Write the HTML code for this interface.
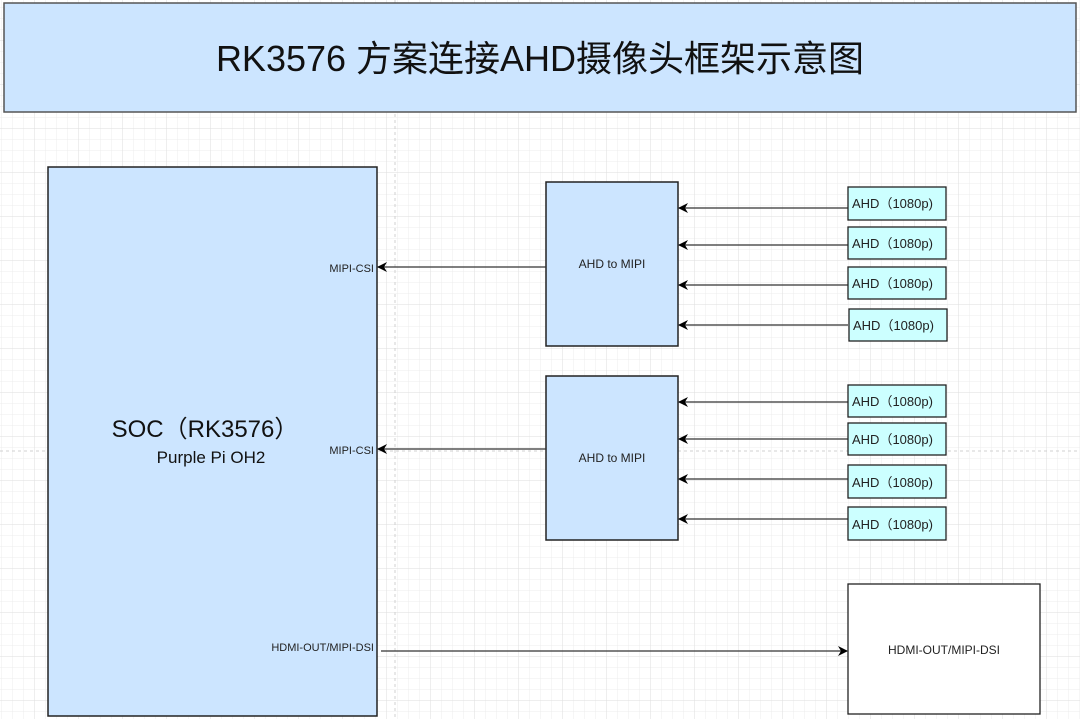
<!DOCTYPE html><html><head><meta charset="utf-8"><style>
body{margin:0;width:1080px;height:719px;overflow:hidden;background:#fff;font-family:"Liberation Sans","Noto Sans CJK SC",sans-serif;}
</style></head><body>
<svg width="1080" height="719" xmlns="http://www.w3.org/2000/svg" font-family="Liberation Sans, Noto Sans CJK SC, sans-serif">
<defs>
<pattern id="g" width="11" height="11" patternUnits="userSpaceOnUse" x="0" y="0"><path d="M11 0V11H0" fill="none" stroke="#ececec" stroke-width="1"/></pattern>
<pattern id="G" width="44" height="44" patternUnits="userSpaceOnUse" x="-9" y="-3"><rect width="44" height="44" fill="url(#g)"/><path d="M44 0V44H0" fill="none" stroke="#dedede" stroke-width="1"/></pattern>
<marker id="a" markerWidth="10" markerHeight="10" refX="9" refY="5" orient="auto" markerUnits="userSpaceOnUse"><path d="M0 0L10 5L0 10L3 5Z" fill="#000"/></marker>
</defs>
<rect width="1080" height="719" fill="url(#G)"/>
<line x1="395" y1="0" x2="395" y2="719" stroke="#d0d0d0" stroke-dasharray="3,3"/>
<line x1="0" y1="451" x2="1080" y2="451" stroke="#d0d0d0" stroke-dasharray="3,3"/>
<rect x="4" y="3" width="1072" height="109" fill="#cce5ff" stroke="#555" stroke-width="1.5"/>
<text x="540" y="71" font-size="36" text-anchor="middle" fill="#111">RK3576 方案连接AHD摄像头框架示意图</text>
<rect x="48" y="167" width="329" height="549" fill="#cce5ff" stroke="#222" stroke-width="1.5"/>
<text x="205" y="437" font-size="24" text-anchor="middle" fill="#111">SOC（RK3576）</text>
<text x="211" y="463" font-size="17" text-anchor="middle" fill="#111">Purple Pi OH2</text>
<text x="374" y="272" font-size="11" text-anchor="end" fill="#222">MIPI-CSI</text>
<text x="374" y="454" font-size="11" text-anchor="end" fill="#222">MIPI-CSI</text>
<text x="374" y="651" font-size="11" text-anchor="end" fill="#222">HDMI-OUT/MIPI-DSI</text>
<g stroke="#222" stroke-width="1.5" fill="#cce5ff">
<rect x="546" y="182" width="132" height="164"/>
<rect x="546" y="376" width="132" height="164"/>
</g>
<text x="612" y="268" font-size="12" text-anchor="middle" fill="#222">AHD to MIPI</text>
<text x="612" y="462" font-size="12" text-anchor="middle" fill="#222">AHD to MIPI</text>
<g stroke="#333" stroke-width="1.2" marker-end="url(#a)">
<line x1="546" y1="267" x2="378" y2="267"/>
<line x1="546" y1="449" x2="378" y2="449"/>
<line x1="381" y1="651" x2="847" y2="651"/>
<line x1="848" y1="208" x2="679" y2="208"/>
<line x1="848" y1="245" x2="679" y2="245"/>
<line x1="848" y1="285" x2="679" y2="285"/>
<line x1="848" y1="325" x2="679" y2="325"/>
<line x1="848" y1="402" x2="679" y2="402"/>
<line x1="848" y1="439" x2="679" y2="439"/>
<line x1="848" y1="479" x2="679" y2="479"/>
<line x1="848" y1="519" x2="679" y2="519"/>
</g>
<g stroke="#222" stroke-width="1.3" fill="#ccffff">
<rect x="848" y="187" width="98" height="33"/>
<rect x="848" y="227" width="98" height="32"/>
<rect x="848" y="267" width="98" height="32"/>
<rect x="849" y="309" width="98" height="32"/>
<rect x="848" y="385" width="98" height="32"/>
<rect x="848" y="423" width="98" height="32"/>
<rect x="848" y="465" width="98" height="33"/>
<rect x="848" y="507" width="98" height="33"/>
</g>
<g font-size="13" fill="#222">
<text x="852" y="208">AHD（1080p)</text>
<text x="852" y="248">AHD（1080p)</text>
<text x="852" y="288">AHD（1080p)</text>
<text x="853" y="330">AHD（1080p)</text>
<text x="852" y="406">AHD（1080p)</text>
<text x="852" y="444">AHD（1080p)</text>
<text x="852" y="487">AHD（1080p)</text>
<text x="852" y="529">AHD（1080p)</text>
</g>
<rect x="848" y="584" width="192" height="130" fill="#fff" stroke="#222" stroke-width="1.3"/>
<text x="944" y="654" font-size="12" text-anchor="middle" fill="#222">HDMI-OUT/MIPI-DSI</text>
</svg>
</body></html>
